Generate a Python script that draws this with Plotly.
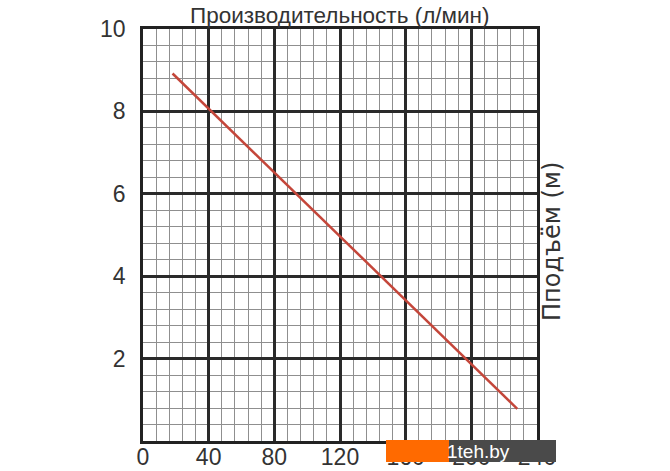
import plotly.graph_objects as go

# Data
flow = [18, 228]          # л/мин
head = [8.92, 0.78]       # м
x_ticks = [0, 40, 80, 120, 160, 200, 240]
y_ticks = [2, 4, 6, 8, 10]
title_text = "Производительность (л/мин)"
ytitle_text = "Пподъём (м)"

FONT = "Liberation Sans, Arial, sans-serif"

L, R, T, B = 143, 133, 29, 30
W, H = 670, 471
PW, PH = W - L - R, H - T - B

def px(x):
    return (x - L) / PW

def py(y):
    return (H - B - y) / PH

fig = go.Figure()
fig.add_trace(go.Scatter(x=flow, y=head, mode="lines",
                         line=dict(color="#c4463a", width=2.5),
                         showlegend=False, hoverinfo="skip"))

axis_common = dict(showline=True, mirror=True, linecolor="#222", linewidth=2.5,
                   showgrid=True, gridcolor="#2a2a2a", gridwidth=2.5,
                   zeroline=False, ticks="", automargin=False,
                   tickfont=dict(family=FONT, size=23, color="#333"))

fig.update_xaxes(range=[0, 240], tickvals=x_ticks, ticktext=[str(v) for v in x_ticks],
                 minor=dict(dtick=8, showgrid=True, gridcolor="#8f8f8f", gridwidth=1),
                 ticklabelstandoff=-6, **axis_common)
fig.update_yaxes(range=[0, 10], tickvals=y_ticks, ticktext=[str(v) for v in y_ticks],
                 minor=dict(dtick=0.4, showgrid=True, gridcolor="#8f8f8f", gridwidth=1),
                 ticklabelstandoff=10, **axis_common)

fig.update_layout(
    width=W, height=H,
    margin=dict(l=L, r=R, t=T, b=B, pad=0, autoexpand=False),
    paper_bgcolor="white", plot_bgcolor="white",
    font=dict(family=FONT, color="#333"),
)
fig.add_annotation(text=title_text, x=px(339), xref="paper", xanchor="center",
                   y=py(15), yref="paper", yanchor="middle", showarrow=False,
                   font=dict(family=FONT, size=22.5, color="#333"))
fig.add_annotation(text=ytitle_text, textangle=-90, x=px(552), xref="paper", xanchor="center",
                   y=py(242), yref="paper", yanchor="middle", showarrow=False,
                   font=dict(family="DejaVu Sans, sans-serif", size=24, color="#333"))

# watermark
fig.add_shape(type="rect", xref="paper", yref="paper",
              x0=px(386), x1=px(449), y0=py(462), y1=py(440),
              fillcolor="#ff6a00", line=dict(width=0), layer="above")
fig.add_shape(type="rect", xref="paper", yref="paper",
              x0=px(449), x1=px(556), y0=py(462), y1=py(440),
              fillcolor="#4a4a4a", line=dict(width=0), layer="above")
fig.add_annotation(text="1teh.by", xref="paper", yref="paper",
                   x=px(445), xanchor="left", y=py(451), yanchor="middle",
                   showarrow=False, font=dict(family=FONT, size=19, color="white"))

fig.write_html("out.html", config={"displayModeBar": False},
               post_script="document.body.style.margin='0';document.body.style.overflow='hidden';")
